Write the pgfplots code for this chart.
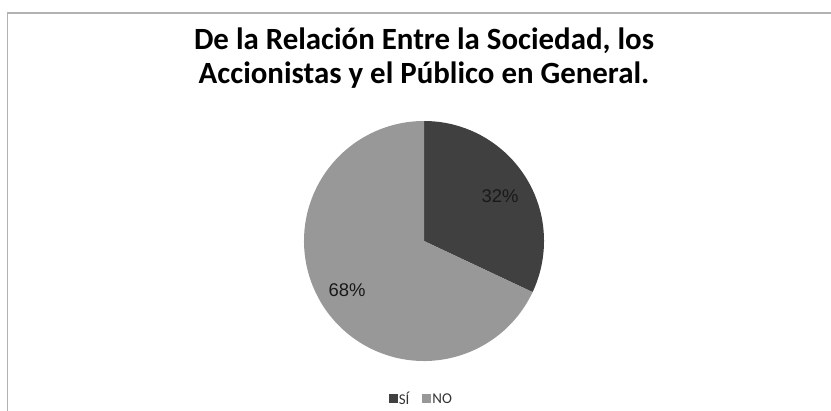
\documentclass[border=0pt]{standalone}
\usepackage{fontspec}
\setmainfont{Carlito}
\newfontfamily\arial{Liberation Sans}
\usepackage{pgfplots}
\usepackage{pgfplotstable}
\pgfplotsset{compat=1.18}
\definecolor{sliceA}{RGB}{64,64,64}
\definecolor{sliceB}{RGB}{152,152,152}
\definecolor{frameC}{RGB}{178,178,178}
\pgfplotstableread[col sep=comma]{
label,value
SÍ,32
NO,68
}\piedata
\pgfplotstablegetelem{0}{value}\of\piedata
\edef\vA{\pgfplotsretval}
\pgfplotstablegetelem{1}{value}\of\piedata
\edef\vB{\pgfplotsretval}
\pgfmathsetmacro{\aA}{90-3.6*\vA}
\pgfmathsetmacro{\aB}{\aA-3.6*\vB}
\begin{document}
\begin{tikzpicture}[x=1bp,y=1bp]
\useasboundingbox (0,0) rectangle (831,410);
\draw[frameC, line width=1.6bp] (7.5,-1) -- (7.5,397) -- (832,397);
\node[anchor=base, font=\bfseries\fontsize{31}{34}\selectfont] at (424,360.7) {De la Relación Entre la Sociedad, los};
\node[anchor=base, font=\bfseries\fontsize{31}{34}\selectfont] at (424,326.7) {Accionistas y el Público en General.};
\begin{axis}[
  at={(424bp,169bp)}, anchor=origin,
  x=1bp, y=1bp,
  xmin=-130, xmax=130, ymin=-130, ymax=130,
  hide axis, clip=false,
  legend columns=2,
  legend style={draw=none, fill=none, inner sep=0pt,
    font=\fontsize{15}{17}\selectfont, text=black!80,
    at={(axis description cs:0.488,-0.1077)}, anchor=center,
    nodes={inner sep=1bp},
    /tikz/every even column/.append style={column sep=12bp}},
  legend image code/.code={\path[#1] (0bp,-3.5bp) rectangle (9bp,5bp);},
]
\addlegendimage{fill=sliceA, draw=none}
\addlegendentry{SÍ}
\addlegendimage{fill=sliceB, draw=none}
\addlegendentry{NO}
\fill[sliceA] (axis cs:0,0) -- (axis cs:0,120) arc[start angle=90, end angle=\aA, radius=120bp] -- cycle;
\fill[sliceB] (axis cs:0,0) -- ({axis cs:{120*cos(\aA)},{120*sin(\aA)}}) arc[start angle=\aA, end angle=\aB, radius=120bp] -- cycle;
\node[font=\arial\fontsize{18.5}{20}\selectfont, text=black!90] at (axis cs:76,45) {\vA\%};
\node[font=\arial\fontsize{18.5}{20}\selectfont, text=black!90] at (axis cs:-77,-49) {\vB\%};
\end{axis}
\end{tikzpicture}
\end{document}
